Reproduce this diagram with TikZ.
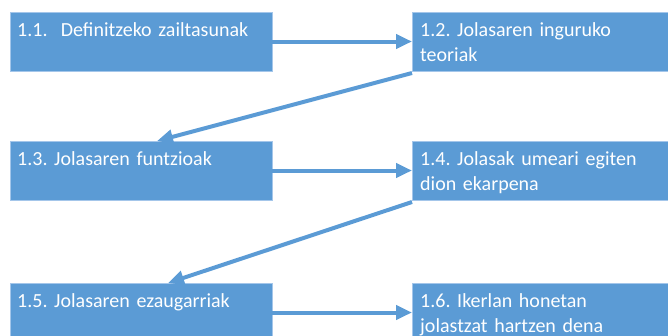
\documentclass[tikz,border=0pt]{standalone}
\usepackage{fontspec}
\setmainfont{Carlito}
\usetikzlibrary{arrows.meta,calc}
\definecolor{boxblue}{HTML}{5B9BD5}
\definecolor{boxedge}{HTML}{A4C6EA}
\frenchspacing
\begin{document}
\begin{tikzpicture}[x=1pt,y=-1pt,
  stepbox/.style={fill=boxblue,draw=boxedge,line width=0.8pt,anchor=north west,
    minimum width=262pt,minimum height=59pt,inner sep=0pt,outer sep=0pt},
  boxtext/.style={anchor=north west,text=white,align=left,inner sep=0pt,
    font=\fontsize{20}{25.5}\selectfont,text width=250pt},
  link/.style={draw=boxblue,line width=4pt,-{Triangle[length=16pt,width=14pt]}}]
  \clip (0,0) rectangle (668,335);
  % left column
  \node[stepbox] (b11) at (10,12) {};
  \node[stepbox] (b13) at (10,141) {};
  \node[stepbox] (b15) at (10,283) {};
  % right column, running past the edge
  \node[stepbox] (b12) at (412,12) {};
  \node[stepbox] (b14) at (412,141) {};
  \node[stepbox] (b16) at (412,283) {};
  % labels
  \node[boxtext] (t11) at (17,22) {1.1.\ \ Definitzeko zailtasunak};
  \node[boxtext] (t12) at (420,22) {1.2. Jolasaren inguruko\\teoriak};
  \node[boxtext] (t13) at (17,151) {1.3. Jolasaren funtzioak};
  \node[boxtext] (t14) at (420,151) {1.4. Jolasak umeari egiten\\dion ekarpena};
  \node[boxtext] (t15) at (17,293) {1.5. Jolasaren ezaugarriak};
  \node[boxtext] (t16) at (420,293) {1.6. Ikerlan honetan\\jolastzat hartzen dena};
  % arrow targets on the top edges
  \coordinate (e13) at ([xshift=16pt]b13.north);
  \coordinate (e15) at ([xshift=27pt]b15.north);
  % connectors
  \draw[link] (b11.east) -- (b11.east -| b12.west);
  \draw[link] ([yshift=-2pt]b12.south west) -- (e13);
  \draw[link] (b13.east) -- (b13.east -| b14.west);
  \draw[link] ([yshift=-2pt]b14.south west) -- (e15);
  \draw[link] (b15.east) -- (b15.east -| b16.west);
\end{tikzpicture}
\end{document}
